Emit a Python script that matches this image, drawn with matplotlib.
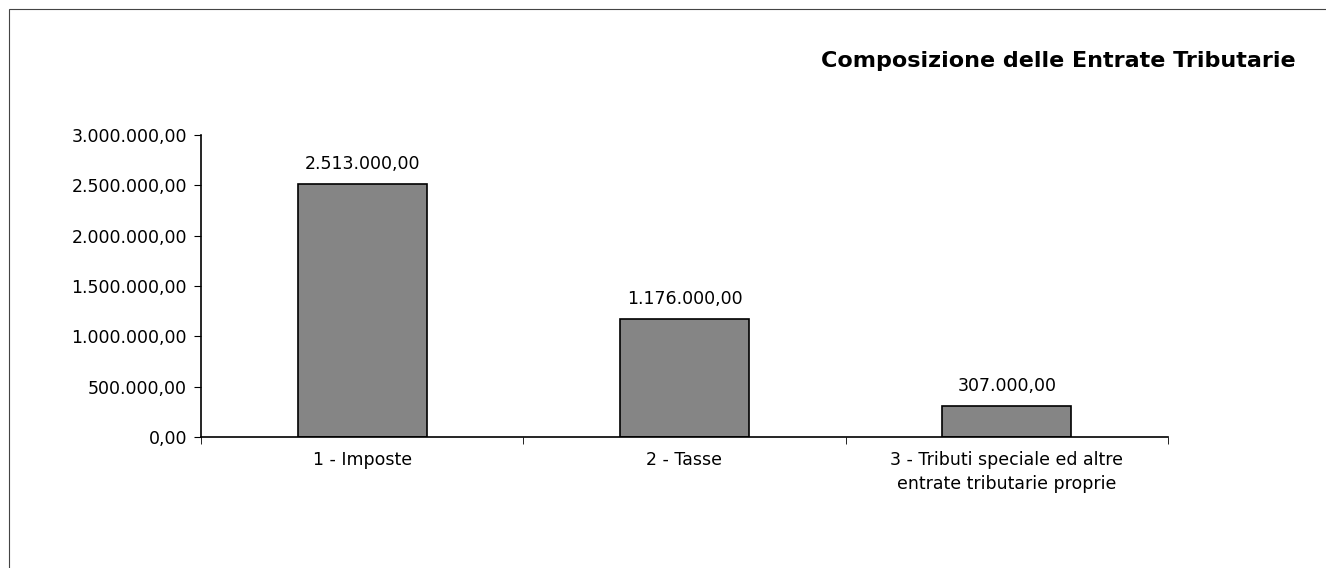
import matplotlib
matplotlib.use("Agg")
from matplotlib import pyplot as plt
from matplotlib.patches import Rectangle

categorie = ["1 - Imposte", "2 - Tasse", "3 - Tributi speciale ed altre\nentrate tributarie proprie"]
valori = [2513000.00, 1176000.00, 307000.00]
tick_y = [0, 500000, 1000000, 1500000, 2000000, 2500000, 3000000]
titolo = "Composizione delle Entrate Tributarie"


def formato_it(v):
    s = f"{v:,.2f}"
    return s.replace(",", "X").replace(".", ",").replace("X", ".")


plt.rcParams['font.family'] = ['DejaVu Sans']

fig = plt.figure(figsize=(13.26, 5.68), dpi=100)
fig.patches.append(Rectangle((9 / 1326, -0.01), 1.05, 559 / 568 + 0.01, transform=fig.transFigure,
                             fill=False, edgecolor="#444444", linewidth=0.8))

ax = fig.add_axes([201 / 1326, 131 / 568, 967 / 1326, 302 / 568])
x = list(range(len(categorie)))
ax.bar(x, valori, width=0.4, color="#858585", edgecolor="black", linewidth=1.2)

for i, v in enumerate(valori):
    ax.text(i, v + 110000, formato_it(v), ha="center", va="bottom", fontsize=12.5)

ax.set_xlim(-0.5, 2.5)
ax.set_ylim(0, 3000000)
ax.set_yticks(tick_y)
ax.set_yticklabels([formato_it(t) for t in tick_y], fontsize=12.5)
ax.set_xticks(x)
ax.set_xticklabels(categorie, fontsize=12.5, linespacing=1.45)
ax.set_xticks([-0.5, 0.5, 1.5, 2.5], minor=True)
ax.tick_params(axis="x", which="major", length=0, pad=10)
ax.tick_params(axis="x", which="minor", length=5, direction="out")
ax.tick_params(axis="y", length=5, direction="out", pad=5)

for lato in ["top", "right"]:
    ax.spines[lato].set_visible(False)
ax.spines["left"].set_linewidth(1.2)
ax.spines["bottom"].set_linewidth(1.2)

fig.text(1296 / 1326, 1 - 61 / 568, titolo, ha="right", va="center", fontsize=16, fontweight="bold")

fig.savefig("out.png", dpi=100)
